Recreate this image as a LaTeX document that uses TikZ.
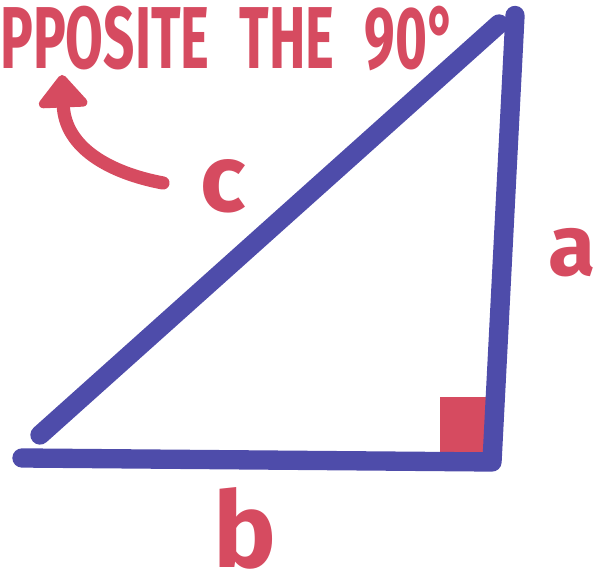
\documentclass[tikz,border=0pt]{standalone}
\usepackage{fontspec}
\setsansfont{Fira Sans}
\usepackage{xcolor}
\usepackage{tikz}
\usetikzlibrary{calc, arrows.meta}
\definecolor{penblue}{RGB}{78,76,170}
\definecolor{penred}{RGB}{214,75,96}

\begin{document}
\begin{tikzpicture}[>=Stealth, font=\sffamily\bfseries]
  \useasboundingbox (0,0) rectangle (12.06,11.56);

  % Define key coordinates (corners of the triangle)
  \coordinate (T) at (10.3, 11.25);    % Top corner
  \coordinate (R) at (9.84, 2.32);     % Right angle corner
  \coordinate (L) at (0.44, 2.4);      % Left end of b
  \coordinate (H1) at (0.8, 2.86);     % Lower end of c
  \coordinate (H2) at (9.98, 11.08);   % Upper end of c

  % Right angle mark
  \fill[penred] (8.8, 2.44) rectangle (9.76, 3.62);

  % Sides
  \draw[penblue, line width=11pt, line cap=round, line join=round] (L) -- (R) -- (T);
  \draw[penblue, line width=11pt, line cap=round] (H1) -- (H2);

  % Labels of the sides
  \node[penred, inner sep=0pt, font=\sffamily\bfseries\fontsize{54}{60}\selectfont] (c) at (4.46, 7.84) {c};
  \node[penred, inner sep=0pt, font=\sffamily\bfseries\fontsize{49}{54}\selectfont] (a) at (11.44, 6.5) {a};
  \node[penred, inner sep=0pt, font=\sffamily\bfseries\fontsize{60}{66}\selectfont] (b) at (4.9, 1.0) {b};

  % Note at the top
  \node[penred, anchor=west, xscale=0.76, yscale=1.22, transform shape, inner sep=0pt,
        font=\sffamily\bfseries\fontsize{41}{48}\selectfont] (note) at (0, 10.78)
        {PPOSITE\hspace{0.55em}THE\hspace{0.55em}90°};

  % Arrow from c up to the note
  \coordinate (tail) at (3.26, 7.9);
  \coordinate (tip) at (1.24, 10.06);
  \draw[penred, line width=7.5pt, line cap=round, -{Triangle[length=20pt, width=32pt, round]}]
    (tail) .. controls (2.2, 8.1) and (1.3, 8.6) .. (tip);
\end{tikzpicture}
\end{document}
